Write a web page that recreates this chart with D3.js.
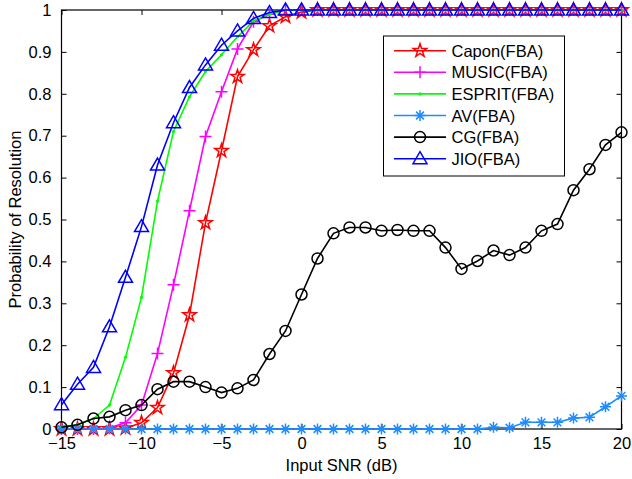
<!DOCTYPE html>
<html><head><meta charset="utf-8">
<script src="https://cdn.jsdelivr.net/npm/d3@7"></script>
<style>body{margin:0;background:#fff}text{font-family:"Liberation Sans",Arial,sans-serif}</style>
</head><body><svg id="c" width="632" height="479"></svg>
<script>
const snr = d3.range(-15, 21, 1);
const capon  = [0,0,0,0,0.002,0.015,0.051,0.134,0.272,0.492,0.664,0.841,0.905,0.962,0.984,0.995,1,1,1,1,1,1,1,1,1,1,1,1,1,1,1,1,1,1,1,1];
const music  = [0,0,0,0.003,0.015,0.057,0.18,0.344,0.521,0.698,0.805,0.907,0.972,0.99,1,1,1,1,1,1,1,1,1,1,1,1,1,1,1,1,1,1,1,1,1,1];
const esprit = [0.005,0.01,0.025,0.057,0.171,0.314,0.544,0.71,0.793,0.853,0.893,0.936,0.974,0.99,1,1,1,1,1,1,1,1,1,1,1,1,1,1,1,1,1,1,1,1,1,1];
const av     = [0,0,0,0,0,0,0,0,0,0,0,0,0,0,0,0,0,0,0,0,0,0,0,0,0,0,0,0.004,0.003,0.016,0.016,0.016,0.026,0.028,0.053,0.079];
const cg     = [0.004,0.01,0.025,0.029,0.045,0.057,0.095,0.113,0.113,0.1,0.087,0.097,0.117,0.179,0.234,0.321,0.407,0.467,0.481,0.481,0.473,0.475,0.473,0.473,0.433,0.382,0.401,0.426,0.415,0.433,0.473,0.489,0.57,0.62,0.678,0.708];
const jio    = [0.058,0.107,0.147,0.244,0.362,0.483,0.63,0.731,0.815,0.869,0.916,0.95,0.98,0.994,1,1,1,1,1,1,1,1,1,1,1,1,1,1,1,1,1,1,1,1,1,1];
const seriesNames = ["Capon(FBA)","MUSIC(FBA)","ESPRIT(FBA)","AV(FBA)","CG(FBA)","JIO(FBA)"];
const seriesValues = [capon, music, esprit, av, cg, jio];
const colors = ["#ff0000","#ff00ff","#00ff00","#1e8cff","#000000","#0000ff"];
const markers = ["star","plus","dot","asterisk","circle","triangle"];
const xTicks = [-15,-10,-5,0,5,10,15,20];
const yTicks = d3.range(0, 11).map(i => i/10);
const xLabel = "Input SNR (dB)";
const yLabel = "Probability of Resolution";

(function(){
const FS = 16.5;
const svg = d3.select("#c");
const L = 61.5, R = 621.5, T = 10, B = 429;
const x = d3.scaleLinear().domain([-15, 20]).range([L, R]);
const y = d3.scaleLinear().domain([0, 1]).range([B, T]);
const fmtX = d => d < 0 ? "\u2212" + Math.abs(d) : String(d);
const fmtY = d => d === 0 ? "0" : d === 1 ? "1" : d3.format(".1f")(d);

const ax = svg.append("g");
const gB = ax.append("g").attr("transform", `translate(0,${B})`)
  .call(d3.axisBottom(x).tickValues(xTicks).tickFormat(fmtX).tickSize(-5).tickPadding(8));
const gT = ax.append("g").attr("transform", `translate(0,${T})`)
  .call(d3.axisTop(x).tickValues(xTicks).tickFormat("").tickSize(-5));
const gL = ax.append("g").attr("transform", `translate(${L},0)`)
  .call(d3.axisLeft(y).tickValues(yTicks).tickFormat(fmtY).tickSize(-5).tickPadding(10));
const gR = ax.append("g").attr("transform", `translate(${R},0)`)
  .call(d3.axisRight(y).tickValues(yTicks).tickFormat("").tickSize(-5));
[gB, gT, gL, gR].forEach(g => {
  g.select(".domain").remove();
  g.selectAll("line").attr("stroke", "#000").attr("stroke-width", 1);
  g.selectAll("text").attr("fill", "#000").attr("font-family", "Liberation Sans, Arial, sans-serif").attr("font-size", FS);
});
svg.append("rect").attr("x", L).attr("y", T).attr("width", R - L).attr("height", B - T)
  .attr("fill", "none").attr("stroke", "#000").attr("stroke-width", 1.2);

svg.append("text").attr("x", (L + R) / 2).attr("y", 471).attr("text-anchor", "middle")
  .attr("font-size", FS).text(xLabel);
svg.append("text").attr("transform", `translate(21,${(T + B) / 2}) rotate(-90)`)
  .attr("text-anchor", "middle").attr("font-size", FS).text(yLabel);

function drawMarker(g, type, cx, cy, color) {
  if (type === "star") {
    g.append("path").attr("d", d3.symbol(d3.symbolStar, 55)())
      .attr("transform", `translate(${cx},${cy})`).attr("fill", "none").attr("stroke", color).attr("stroke-width", 1.5);
  } else if (type === "plus") {
    g.append("path").attr("d", `M${cx-6},${cy}H${cx+6}M${cx},${cy-6}V${cy+6}`).attr("stroke", color).attr("stroke-width", 1.5);
  } else if (type === "dot") {
    g.append("circle").attr("cx", cx).attr("cy", cy).attr("r", 1.6).attr("fill", color);
  } else if (type === "asterisk") {
    const s = 5.5, d = s * 0.707;
    g.append("path").attr("d", `M${cx-s},${cy}H${cx+s}M${cx},${cy-s}V${cy+s}M${cx-d},${cy-d}L${cx+d},${cy+d}M${cx-d},${cy+d}L${cx+d},${cy-d}`)
      .attr("stroke", color).attr("stroke-width", 1.5);
  } else if (type === "circle") {
    g.append("circle").attr("cx", cx).attr("cy", cy).attr("r", 5.5).attr("fill", "none").attr("stroke", color).attr("stroke-width", 1.5);
  } else if (type === "triangle") {
    g.append("path").attr("d", `M${cx},${cy-7}L${cx+7},${cy+5}L${cx-7},${cy+5}Z`)
      .attr("fill", "none").attr("stroke", color).attr("stroke-width", 1.5);
  }
}

const line = d3.line().x((d, i) => x(snr[i])).y(d => y(d));
seriesValues.forEach((vals, k) => {
  const g = svg.append("g");
  g.append("path").attr("d", line(vals)).attr("fill", "none").attr("stroke", colors[k]).attr("stroke-width", 1.6);
  vals.forEach((v, i) => drawMarker(g, markers[k], x(snr[i]), y(v), colors[k]));
});

const lg = svg.append("g");
lg.append("rect").attr("x", 383.5).attr("y", 36).attr("width", 181).attr("height", 140)
  .attr("fill", "#fff").attr("stroke", "#000").attr("stroke-width", 1);
seriesNames.forEach((name, k) => {
  const ry = 50.7 + k * 21.6;
  lg.append("line").attr("x1", 394).attr("x2", 446).attr("y1", ry).attr("y2", ry).attr("stroke", colors[k]).attr("stroke-width", 1.6);
  drawMarker(lg, markers[k], 420, ry, colors[k]);
  lg.append("text").attr("x", 451.5).attr("y", ry + 6).attr("font-size", FS).text(name);
});
})();
</script></body></html>
